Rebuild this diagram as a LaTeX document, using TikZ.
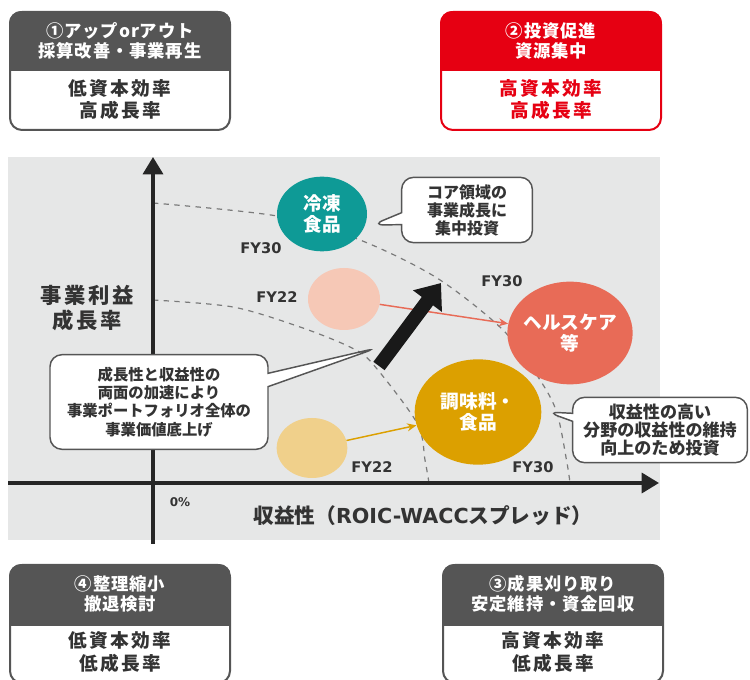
\documentclass[tikz,border=0pt]{standalone}
\usepackage{fontspec}
\setmainfont{Noto Sans CJK JP}
\newfontfamily\latinbold{DejaVu Sans}
\usetikzlibrary{arrows.meta,positioning,shapes.geometric,shapes.callouts}
\definecolor{headgray}{HTML}{555555}
\definecolor{kred}{HTML}{E60012}
\definecolor{panelgray}{HTML}{E6E7E7}
\definecolor{inkgray}{HTML}{333333}
\definecolor{frozenteal}{HTML}{0E9A96}
\definecolor{healthred}{HTML}{E86B57}
\definecolor{seasongold}{HTML}{DCA000}
\definecolor{palepink}{HTML}{F6C8B6}
\definecolor{palegold}{HTML}{F0D08B}
\definecolor{dashgray}{HTML}{7A7A7A}

\begin{document}
\begin{tikzpicture}[
    x=0.75pt, y=-0.75pt,
    quadframe/.style={rectangle, rounded corners=9pt, minimum width=165pt, minimum height=88.5pt, line width=1.5pt, fill=white, inner sep=0pt},
    headtext/.style={align=center, text=white, font=\fontsize{13}{15}\selectfont\bfseries\addfontfeatures{LetterSpace=5}},
    bodytext/.style={align=center, text=inkgray, font=\fontsize{14}{17}\selectfont\bfseries\addfontfeatures{LetterSpace=12}},
    bubble/.style={ellipse, inner sep=-6pt, align=center, text=white, font=\fontsize{14}{16}\selectfont\bfseries},
    pale/.style={ellipse, inner sep=0pt},
    fylabel/.style={text=inkgray, font=\latinbold\bfseries\fontsize{11}{13}\selectfont},
    callbox/.style={rectangle callout, rounded corners=9pt, draw=headgray, line width=1.1pt, fill=white, align=center, text=inkgray, inner sep=0pt, font=\fontsize{12}{13.5}\selectfont\bfseries},
    axis/.style={line width=2.6pt, draw=black!85, -{Triangle[length=13pt, width=15pt]}},
    guide/.style={dashgray, line width=0.9pt, dash pattern=on 4pt off 4pt},
    arrow/.style={line width=1.1pt, -{Stealth[length=7pt, width=6pt]}},
    bigarrow/.style={line width=10.5pt, black!90, -{Triangle[length=17pt, width=26pt]}}
]
\clip (0,0) rectangle (750,680);

% Panel
\fill[panelgray] (8,157) rectangle (660,540);

% Guide curves
\draw[guide] plot[smooth] coordinates {(153,203) (277,216) (360,240) (437,278) (503,330) (540,380) (557,413) (567,463) (570,483)};
\draw[guide] plot[smooth] coordinates {(153,300) (233,307) (300,327) (350,347) (372,363) (417,423) (425,460) (429,483)};

% Axes
\coordinate (ybot) at (153,544);
\coordinate (ytop) at (153,157);
\coordinate (xleft) at (8,483);
\coordinate (xright) at (659,483);
\draw[axis] (ybot) -- (ytop);
\draw[axis] (xleft) -- (xright);

% Quadrant boxes
\node (q1) [quadframe, draw=headgray] at (120,71) {};
\begin{scope}
\clip[rounded corners=9pt] (q1.north west) rectangle (q1.south east);
\fill[headgray] (q1.north west) rectangle ([yshift=-45pt]q1.north east);
\end{scope}
\node (q1head) [headtext] at ([yshift=-22.5pt]q1.north) {①アップorアウト\\採算改善・事業再生};
\node (q1body) [bodytext] at ([yshift=-66.5pt]q1.north) {低資本効率\\高成長率};

\node (q2) [quadframe, draw=kred] at (551,71) {};
\begin{scope}
\clip[rounded corners=9pt] (q2.north west) rectangle (q2.south east);
\fill[kred] (q2.north west) rectangle ([yshift=-45pt]q2.north east);
\end{scope}
\node (q2head) [headtext] at ([yshift=-22.5pt]q2.north) {②投資促進\\資源集中};
\node (q2body) [bodytext, text=kred] at ([yshift=-66.5pt]q2.north) {高資本効率\\高成長率};

\node (q4) [quadframe, draw=headgray] at (120,624) {};
\begin{scope}
\clip[rounded corners=9pt] (q4.north west) rectangle (q4.south east);
\fill[headgray] (q4.north west) rectangle ([yshift=-46.5pt]q4.north east);
\end{scope}
\node (q4head) [headtext] at ([yshift=-22.5pt]q4.north) {④整理縮小\\撤退検討};
\node (q4body) [bodytext] at ([yshift=-66pt]q4.north) {低資本効率\\低成長率};

\node (q3) [quadframe, draw=headgray] at (553,624) {};
\begin{scope}
\clip[rounded corners=9pt] (q3.north west) rectangle (q3.south east);
\fill[headgray] (q3.north west) rectangle ([yshift=-46.5pt]q3.north east);
\end{scope}
\node (q3head) [headtext] at ([yshift=-22.5pt]q3.north) {③成果刈り取り\\安定維持・資金回収};
\node (q3body) [bodytext] at ([yshift=-66pt]q3.north) {高資本効率\\低成長率};

% Businesses
\node (frozen) [bubble, fill=frozenteal, minimum width=67.5pt, minimum height=56pt] at (322,214) {冷凍\\食品};
\node (pink22) [pale, fill=palepink, minimum width=54pt, minimum height=46.5pt] at (344,299) {};
\node (health) [bubble, fill=healthred, minimum width=94pt, minimum height=77pt] at (570,333) {ヘルスケア\\等};
\node (season) [bubble, fill=seasongold, minimum width=95pt, minimum height=79pt] at (478,412) {調味料・\\食品};
\node (gold22) [pale, fill=palegold, minimum width=53pt, minimum height=45pt] at (312,448) {};

\draw[arrow, healthred] (pink22) -- (health);
\draw[arrow, seasongold] (gold22) -- (season);

\coordinate (liftstart) at (379,366);
\coordinate (lifttip) at (441,283);
\draw[bigarrow] (liftstart) -- (lifttip);

% Labels
\node (fy30a) [fylabel] at (261,248) {FY30};
\node (fy22a) [fylabel] at (277,297) {FY22};
\node (fy30b) [fylabel] at (502,281) {FY30};
\node (fy22b) [fylabel] at (372,467) {FY22};
\node (fy30c) [fylabel] at (533,467) {FY30};
\node (zero) [fylabel, font=\latinbold\bfseries\fontsize{9}{11}\selectfont] at (180,502) {0\%};
\node (ylab) [align=center, text=inkgray, font=\fontsize{16}{19}\selectfont\bfseries\addfontfeatures{LetterSpace=12}] at (87,308) {事業利益\\成長率};
\node (xlab) [text=inkgray, font=\fontsize{15.5}{17}\selectfont\bfseries] at (423,516) {収益性（{\latinbold ROIC-WACC}スプレッド）};

% Notes
\coordinate (coretip) at (372,225);
\node (corenote) [callbox, minimum width=98pt, minimum height=49pt, callout pointer width=9pt, callout absolute pointer={(coretip)}] at (467,210) {コア領域の\\事業成長に\\集中投資};
\coordinate (bigtip) at (377,348);
\node (bignote) [callbox, minimum width=163.5pt, minimum height=71pt, callout pointer width=10pt, callout absolute pointer={(bigtip)}, font=\fontsize{11.5}{13.7}\selectfont\bfseries] at (159,402) {成長性と収益性の\\両面の加速により\\事業ポートフォリオ全体の\\事業価値底上げ};
\coordinate (righttip) at (547,412);
\node (rightnote) [callbox, minimum width=131pt, minimum height=49pt, callout pointer width=6pt, callout absolute pointer={(righttip)}, font=\fontsize{12.8}{13.5}\selectfont\bfseries] at (660,430) {収益性の高い\\分野の収益性の維持\\向上のため投資};

\end{tikzpicture}
\end{document}
